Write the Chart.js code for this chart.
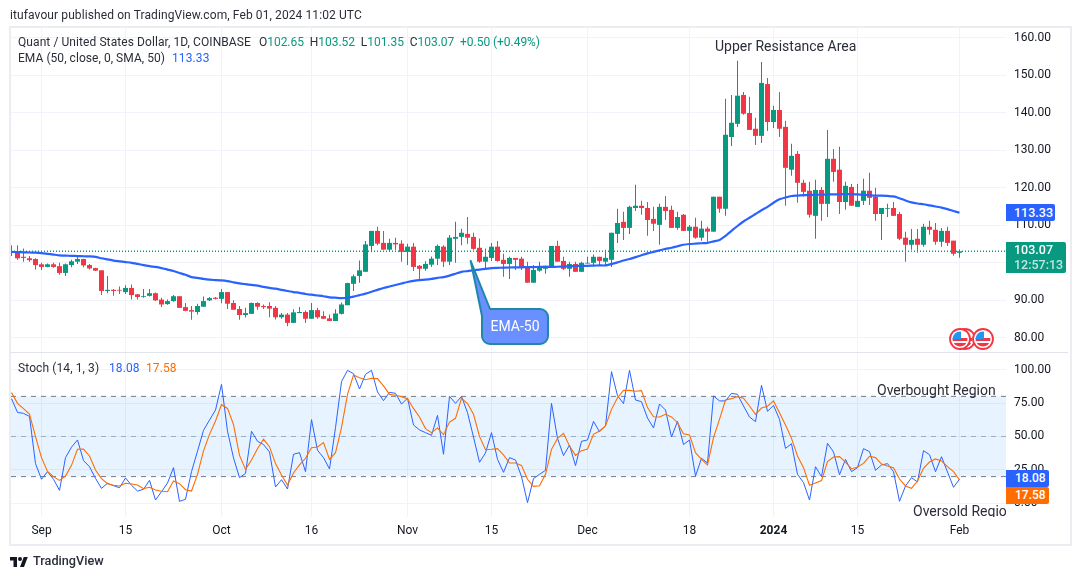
<!DOCTYPE html>
<html><head><meta charset="utf-8">
<script src="https://cdn.jsdelivr.net/npm/chart.js@4"></script>
<style>
html,body{margin:0;padding:0;background:#fff;width:1080px;height:579px;overflow:hidden}
body{font-family:Roboto,"Open Sans",sans-serif;color:#131722;position:relative}
canvas{position:absolute;left:0}
.t{position:absolute;white-space:nowrap;font-size:12px;line-height:16px;color:#2a2e39}
.frame{position:absolute;left:9px;top:26px;width:1059px;height:516px;border:2px solid #ECEDF3}
.sep{position:absolute;left:11px;top:352px;width:1057px;height:1px;background:#E0E3EB}
.pill{position:absolute;left:1006px;color:#fff;font-size:12.5px;font-weight:500;padding-left:8px;box-sizing:border-box;border-radius:0 2px 2px 0;z-index:5}
.g{color:#089981}.b{color:#2962FF}.o{color:#FF6D00}
svg{position:absolute;overflow:visible}
</style></head><body>
<div class="frame"></div>
<canvas id="price" width="1080" height="352" style="top:0"></canvas>
<canvas id="stoch" width="1080" height="192" style="top:352px"></canvas>
<div class="sep"></div>

<div class="t" style="left:10px;top:7px;font-size:12px;letter-spacing:.1px">itufavour published on TradingView.com, Feb 01, 2024 11:02 UTC</div>
<div class="t" style="left:18px;top:34px;font-size:12px;letter-spacing:.08px">Quant / United States Dollar, 1D, COINBASE</div>
<div class="t" style="left:259px;top:34px;font-size:12px;letter-spacing:-.04px">O<span class="g">102.65</span> &nbsp;H<span class="g">103.52</span> &nbsp;L<span class="g">101.35</span> &nbsp;C<span class="g">103.07</span> &nbsp;<span class="g">+0.50 (+0.49%)</span></div>
<div class="t" style="left:18px;top:50px;font-size:12px;letter-spacing:.05px">EMA (50, close, 0, SMA, 50)</div>
<div class="t b" style="left:172px;top:50px;font-size:12px;letter-spacing:.1px">113.33</div>
<div class="t" style="left:18px;top:360px;font-size:12px;letter-spacing:.1px">Stoch (14, 1, 3)</div>
<div class="t b" style="left:109px;top:360px;font-size:12px;letter-spacing:.1px">18.08</div>
<div class="t o" style="left:146px;top:360px;font-size:12px;letter-spacing:.1px">17.58</div>

<div class="t" style="left:715px;top:38px;font-size:14px">Upper Resistance Area</div>
<div class="t" style="left:877px;top:382px;font-size:14px">Overbought Region</div>
<div style="position:absolute;left:880px;top:500px;width:126px;height:17px;overflow:hidden"><div class="t" style="left:33px;top:3px;font-size:14px">Oversold Region</div></div>

<svg style="left:0;top:0" width="1080" height="579">
<path d="M470.7 261 L490 309 H540 a8 8 0 0 1 8 8 V336 a8 8 0 0 1 -8 8 H490 a8 8 0 0 1 -8 -8 V316 Z" fill="#6A8FFF" stroke="#1E88A8" stroke-width="2" stroke-linejoin="round"/>
<g id="flags"></g>
</svg>
<div class="t" style="left:482px;top:318px;width:66px;text-align:center;color:#fff;font-size:14px">EMA-50</div>

<div class="pill" style="top:204px;width:49px;height:17px;line-height:17px;background:#2962FF">113.33</div>
<div class="pill" style="top:242px;width:60px;height:31px;background:#089981;padding-top:1px;line-height:14.5px">103.07<br><span style="opacity:.75">12:57:13</span></div>
<div class="pill" style="top:470px;width:43px;height:17px;line-height:17px;background:#2962FF;padding-left:9px;font-size:12px">18.08</div>
<div class="pill" style="top:487px;width:43px;height:17px;line-height:17px;background:#FF6D00;padding-left:9px;font-size:12px">17.58</div>

<svg style="left:10px;top:556px" width="18" height="12" viewBox="0 0 36 24"><path fill="#131722" d="M14 22H7V9H0V2h14v20zM28 22h-8l7.5-20h8L28 22z"/><circle cx="20" cy="6" r="4" fill="#131722"/></svg>
<div class="t" style="left:33px;top:553px;font-size:12.7px;font-weight:500;color:#2a2e39">TradingView</div>

<script>
const open=[103.1,102.8,101.6,101.2,101.0,99.6,98.9,99.6,99.1,97.3,
99.4,100.3,101,99.4,98.6,98,92.5,92.8,92.8,92.2,
93.3,91.6,90.9,91.2,91.9,90.2,89,89.8,91.1,88.2,
87.4,86.9,88.3,90,90.7,90.4,92.2,89.3,87.7,86.1,
86.4,89.3,88.5,88.5,88,85.5,86.2,84,86.6,86.9,
85.1,87.4,85.8,85.2,84.5,86.4,88.7,94.4,96.5,97.6,
104.5,108.5,105.3,103.5,105.3,105.1,102.9,104.3,99.2,98.4,
99.5,101.1,104.3,100.3,106.4,106.9,107.7,106.9,104,100.3,
101.3,104.3,100.8,99.7,101.3,101.1,98.9,94.7,97.9,98.4,
98.7,104.5,100.5,98.4,99.7,97.6,99.8,100,101.6,100.3,
100.8,107.7,110.9,109.3,114.6,115.2,114.6,111.7,110.1,114.9,
114.1,109.3,112.8,108.5,109.6,106.7,109.1,108.3,117.6,114.4,
133.5,137,144.7,139.9,135.7,133.8,147.6,137.5,140.7,136.2,
124.8,129,121.3,119.2,112.5,119.4,115.7,127.7,124.8,116.2,
120.2,114.9,116.5,119.2,117.6,113,114.4,114.6,113,106.7,
104.8,106.4,104.8,109.6,108.8,105.6,108.5,105.9,102.65];
const close=[102.6,101.2,101.3,100.7,99.4,98.9,99.6,98.9,97.3,99.6,
100.4,101,99.3,98.5,97.9,92.5,92.8,92.5,92.6,93.3,
91.4,90.9,91.1,91.9,90,88.9,89.8,91.1,88,87.2,
87,88.5,89.8,90.6,90.4,92.2,89.1,87.5,86.1,86.6,
89.3,88.3,88.2,87.8,85.5,86.2,84,86.8,86.9,85.1,
87.4,85.5,85.1,84.5,86.5,88.9,94.6,96.4,98,104.9,
108.5,105.1,103.5,105.3,104.9,102.9,104.3,98.9,98.4,99.7,
101.1,104.5,100.3,106.7,106.9,108,106.7,103.7,100.3,101.6,
104.3,100.5,99.7,101.3,100.8,98.7,94.7,98.1,98.7,99.2,
104.5,100.3,98.4,99.7,97.6,100,100,101.6,100.5,101.3,
108,110.6,109.3,114.9,115.2,114.6,111.4,110.4,114.9,113.8,
109.3,112.2,108.5,109.6,106.7,109.1,108.3,117.6,114.4,134.1,
137.3,144.5,139.7,135.4,133.8,147.9,137.5,140.7,135.7,125.3,
128.5,121.3,118.9,112.8,119.4,115.7,127.7,124.2,116.2,120.5,
115.2,116.5,119.2,117.3,113,114.6,114.6,112.5,106.4,104.8,
106.1,104.8,109.6,108.8,105.6,108.5,105.3,102.4,103.07];
const high=[104.7,104.7,103.8,101.8,101.2,100,99.8,100,100,99.8,
100.8,101.6,101.1,99.7,98.7,98,96.5,93,93.7,94,
94.2,91.7,93,93,92.1,90.7,90.2,91.4,91.1,89.3,
88.5,89.1,91,90.9,90.9,93,92.2,90,88.5,88,
89.4,89.5,88.9,89.5,88.5,86.6,86.6,87.6,88.2,87.3,
89.3,88,87.1,86.2,87.6,89.4,94.7,96.9,100.6,105.8,
108.5,109.6,108.5,106.4,106.7,106,105.1,105.3,99.4,100.4,
101.7,104.9,104.7,107.4,110.9,109.1,112.2,108,106.5,103.8,
105.3,105.8,102.4,101.6,101.3,101.6,100.3,99.4,100.3,99.2,
104.5,105.9,101.6,100.3,100.3,100.3,101.6,102.2,101.6,103.5,
108,114.4,113.6,115.2,120.8,116.5,116.2,114.9,115.7,117.8,
115.2,113.6,113,110.1,112,111.2,109.6,117.6,117.6,143.7,
144.7,153.8,145.5,144.2,138.6,153.5,149.2,141.8,145.5,137.8,
131.7,129.8,122.1,121.6,122.1,120.2,135.4,130.3,130.9,121.6,
121,121,122.4,124,120,114.6,115.7,116.2,113.6,108.3,
109,109,110.4,111.2,110.6,109.3,109.6,105.9,103.52];
const low=[101.8,100.8,100.3,100.3,98.2,98.1,98.8,98.7,96.8,96.5,
98.8,99.7,98.8,98.2,97.8,91.4,91.9,91.2,91.7,91.7,
90.2,90.2,90.7,91,89.8,88.2,88.8,89.6,88,87.1,
84.8,86.2,88.3,89.8,90.2,89.2,87.7,87.5,84.8,85.4,
86.4,87.5,87.7,85.5,84.9,85.1,83.1,84,86.6,84,
85.1,85.1,85.1,84.5,84.5,86.2,88.7,92.5,94.7,97.6,
102.8,104.7,103.5,102.9,103.4,100.3,99.4,97.8,95.3,97.9,
98.9,99.4,98.9,99.4,100,104.7,105.1,103.5,100,98.1,
100.5,100.3,96.3,95.7,98.1,98.1,94.7,94.7,97.6,97.1,
98.7,100.3,98.1,96.3,97.6,97.6,99.8,99.2,99.4,99.2,
98.9,105.3,106.1,107.7,113.8,112.8,107.2,108.5,104.8,111.4,
109.3,108.8,108.5,103.2,106.4,105.9,105.6,108.3,113.3,112.5,
131.1,136.2,139.4,135.4,131.4,131.9,135.1,135.9,133.5,115.2,
123.2,116,117.6,112,106.4,111.2,112.2,121.6,113,114.1,
115.2,114.9,115.4,115.4,111.2,106.1,112.2,112.5,106.1,100.3,
103.5,102.7,104.3,107.5,104.8,104.3,104.5,101.9,101.35];
const ema50=[102.9,102.85,102.8,102.75,102.7,102.6,102.4,102.2,102.0,101.9,
101.85,101.8,101.75,101.7,101.6,101.2,100.9,100.6,100.4,100.2,
100.0,99.7,99.4,99.1,98.9,98.6,98.2,97.8,97.3,96.8,
96.2,96.0,95.7,95.5,95.4,95.3,95.1,94.8,94.5,94.3,
94.1,93.9,93.6,93.3,93.1,92.8,92.5,92.2,92.0,91.7,
91.5,91.3,91.1,90.8,90.7,90.6,90.7,91.0,91.4,91.8,
92.3,92.8,93.3,93.7,94.1,94.5,94.9,95.2,95.4,95.5,
95.7,96.0,96.2,96.6,97.1,97.6,97.8,98.0,98.2,98.4,
98.6,98.65,98.7,98.75,98.8,98.8,98.85,98.85,98.9,98.9,
98.9,98.95,99,99.1,99.15,99.2,99.2,99.25,99.3,99.3,
99.7,100.1,100.6,101,101.5,102,102.5,102.9,103.3,103.7,
104,104.4,104.8,105,105.1,105.2,105.3,105.7,106.1,107.2,
108.5,109.8,111,112,113,114,114.9,116,116.9,117.4,
117.8,117.9,118,118.05,118.1,118.15,118.2,118.2,118.25,118.3,
118.3,118.2,118.1,118,117.9,117.9,117.8,117.7,117.2,116.6,
116.1,115.8,115.6,115.3,115,114.7,114.3,113.8,113.33];
const stochK=[78.3,68,67.3,65,29.7,18,23.7,18,9.7,34.2,
42,47.4,32,27.4,18.7,11.2,15,13.2,11.7,19,
13.5,9.2,10.5,17.2,2.5,8.7,15.2,26.7,1.5,3,
23.7,39,54.6,62.3,69.8,89,54,34,19.2,22.4,
53.9,46.4,44,38.4,12.2,17.7,10.7,36.7,37.9,23.7,
62.6,39.7,34.2,25.7,56.6,91,99.5,97,85.5,96.5,
99.5,83.3,76.8,83,82.3,74.3,78.6,58.6,54.9,52.9,
50.9,65.8,36.7,80,74.8,80,67.8,49.6,30.7,37.7,
52.9,32.9,23.2,34.2,32.4,20,0.5,18.5,21.7,24.7,
74.8,48.6,35.7,43.6,28.2,46.4,47.4,61.3,53.6,57.9,
98.5,80.5,74.6,99.5,77.3,76,63.8,56.4,74.3,69.8,
49.6,61.3,44,47.4,20.4,33.7,30.2,80.3,76.6,76.6,
82.3,81.5,72.8,64.6,61.1,88.3,68.8,73.3,62.8,41.1,
44.6,21.7,15.5,2.5,27.4,20,44.9,38.4,21.4,32.9,
23.7,26.7,40.9,38.7,24.7,28.7,29.7,23.7,1.5,13,
19.2,16,39.4,36.4,23.7,34.9,23.4,12,18.08];
const stochD=[82.8,74.8,70.8,66.8,49.9,34.2,23.9,20,17.2,20.4,
28.4,40.4,40.6,35.4,24.9,18.5,14.7,13.5,13,15,
14.5,13.7,11,12,10,9,8.7,16.7,14.7,10.2,
9.2,21.7,39.2,51.6,61.6,73.8,71,59,35.9,25.4,
32.4,40.9,47.9,42.4,29.7,21.2,13.7,22.7,28.7,33.7,
41.6,42.1,45.4,32.9,37.9,56.6,81.5,96,94,92.5,
93.5,93.3,87.8,81.5,80.8,79.8,78.3,71,64.6,55.9,
52.9,56.4,51.4,60.8,63.6,78.6,74.6,66.6,50.1,40.1,
40.4,40.9,36.2,30.2,30.2,28.4,18,12.7,13.2,21.7,
40.4,48.6,52.4,42.9,35.9,39.4,40.6,51.6,54.1,57.9,
70.3,79,84.5,84.5,83.8,84.3,71.6,64.8,64.6,66.6,
64.6,60.3,52.1,51.1,37.9,32.9,28.7,49.1,62.8,77.3,
78.3,79.8,78.6,72.8,66.6,71.3,72.6,76.6,67.8,58.6,
48.6,35.4,26.7,13.5,15.2,17,31.2,34.7,34.9,30.9,
25.7,27.2,29.9,35.2,34.2,29.4,27.9,26.7,18.2,13,
11.2,16.7,26.2,30.9,33.2,31.7,27.4,23.7,17.58];
const tickPositions=[5,19,35,50,66,80,96,113,127,141,158];
const tickLabels=['Sep','15','Oct','16','Nov','15','Dec','18','2024','15','Feb'];
const priceTicks=[80,90,100,110,120,130,140,150,160];
const stochTicks=[0,25,50,75,100];
const lastPrice=103.07;
const overbought=80, oversold=20, midLevel=50;

const RED='#F23645',GREEN='#089981',GRID='#F0F3FA';
const FONT='Roboto, "Open Sans", sans-serif';
const XMIN=-1/12, XMAX=165.75;
const candleColors=open.map((v,i)=>close[i]>=v?GREEN:RED);
const pts=a=>a.map((y,x)=>({x,y}));
const level=v=>[{x:XMIN,y:v},{x:XMAX,y:v}];
const noPad=s=>{s.paddingTop=s.paddingBottom=s.paddingLeft=s.paddingRight=0};

function xScale(showLabels){
  return {type:'linear',offset:false,min:XMIN,max:XMAX,
    grid:{color:GRID,lineWidth:1,drawTicks:false,offset:false},border:{display:false},
    afterBuildTicks:s=>{s.ticks=tickPositions.map(value=>({value}))},
    afterFit:s=>{s.height=showLabels?27:0;noPad(s)},
    ticks:{display:showLabels,autoSkip:false,maxRotation:0,padding:7,color:'#131722',
      font:c=>({family:FONT,size:12,weight:tickLabels[c.index]==='2024'?'bold':'normal'}),
      callback:(v,i)=>tickLabels[i]}};
}
function yScale(min,max,list){
  return {type:'linear',position:'right',min,max,
    grid:{color:GRID,lineWidth:1,drawTicks:false},border:{display:false},
    afterBuildTicks:s=>{s.ticks=list.map(value=>({value}))},
    afterFit:s=>{s.width=61;noPad(s)},
    ticks:{padding:8,color:'#131722',font:{family:FONT,size:12},callback:v=>Number(v).toFixed(2)}};
}
const base=(pad)=>({responsive:false,animation:false,devicePixelRatio:1,layout:{padding:pad},
  plugins:{legend:{display:false},tooltip:{enabled:false},title:{display:false}}});

new Chart(document.getElementById('price'),{type:'bar',data:{datasets:[
  {type:'line',label:'EMA 50',data:pts(ema50),borderColor:'#2962FF',borderWidth:2.2,pointRadius:0,tension:0.2,order:1},
  {label:'Body',data:open.map((o,x)=>({x,y:[o,close[x]]})),backgroundColor:candleColors,barThickness:5,grouped:false,inflateAmount:0,order:2},
  {label:'Wick',data:low.map((l,x)=>({x,y:[l,high[x]]})),backgroundColor:candleColors,barThickness:1,grouped:false,inflateAmount:0,order:3},
  {type:'line',label:'Last',data:level(lastPrice),borderColor:GREEN,borderWidth:1.3,borderDash:[1,2],pointRadius:0,order:4}
]},options:{...base({left:11,top:27,right:13,bottom:1}),
  scales:{x:xScale(false),y:yScale(76.51,162.8,priceTicks)}}});

new Chart(document.getElementById('stoch'),{type:'line',data:{datasets:[
  {label:'%K',data:pts(stochK),borderColor:'#2962FF',borderWidth:1,pointRadius:0,order:1},
  {label:'%D',data:pts(stochD),borderColor:'#FF6D00',borderWidth:1.1,pointRadius:0,order:0},
  {label:'Upper',data:level(overbought),borderColor:'#787B86',borderWidth:1,borderDash:[5,5],pointRadius:0,fill:'+1',backgroundColor:'rgba(33,150,243,0.11)',order:3},
  {label:'Lower',data:level(oversold),borderColor:'#787B86',borderWidth:1,borderDash:[5,5],pointRadius:0,order:3},
  {label:'Mid',data:level(midLevel),borderColor:'rgba(120,123,134,.55)',borderWidth:1,borderDash:[5,5],pointRadius:0,order:3}
]},options:{...base({left:11,top:1,right:13,bottom:0}),
  scales:{x:xScale(true),y:yScale(-10.22,112.45,stochTicks)}}});

const flags=document.getElementById('flags');
[[965,339],[983,339],[960,339]].forEach(([cx,cy],k)=>{
  const id='fc'+k;
  flags.insertAdjacentHTML('beforeend',
   `<clipPath id="${id}"><circle cx="${cx}" cy="${cy}" r="7.5"/></clipPath>
    <circle cx="${cx}" cy="${cy}" r="10" fill="#fff" stroke="#F23645" stroke-width="1.8"/>
    <g clip-path="url(#${id})"><rect x="${cx-8}" y="${cy-8}" width="16" height="16" fill="#fff"/>
    <rect x="${cx-8}" y="${cy-1}" width="16" height="3" fill="#F23645"/>
    <rect x="${cx-8}" y="${cy+4}" width="16" height="4" fill="#F23645"/>
    <rect x="${cx-8}" y="${cy-8}" width="9" height="8" fill="#2196F3"/></g>`);
});
</script>
</body></html>
